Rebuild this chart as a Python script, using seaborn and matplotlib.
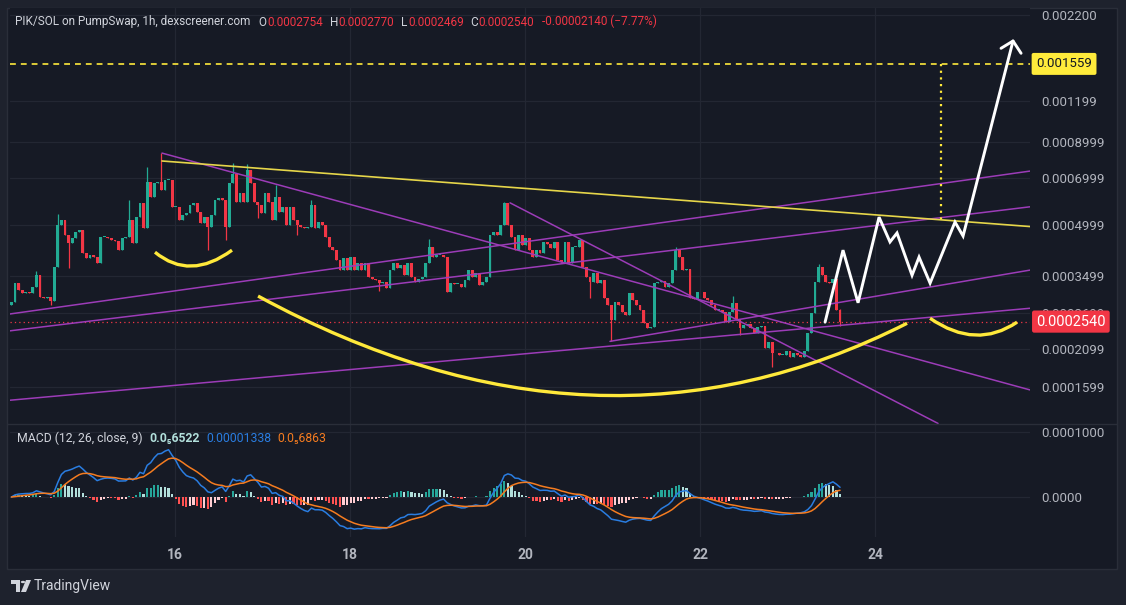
import matplotlib
matplotlib.use("Agg")
import matplotlib.pyplot as plt
import matplotlib.transforms as mtransforms
from matplotlib.lines import Line2D
from matplotlib.patches import PathPatch, Rectangle, Circle, Polygon
from matplotlib.path import Path
from matplotlib.ticker import FixedLocator, NullLocator
import numpy as np
import pandas as pd
import seaborn as sns

# ---- data (prices in millionths of SOL) ----
closes_e6 = [
    292, 333, 317, 310, 313, 310, 324, 352, 302, 300, 301, 294,
    373, 501, 519, 467, 441, 457, 477, 484,
    412, 398, 406, 400, 384, 460, 462, 457, 451, 448,
    420, 457, 462, 519, 441, 530, 585, 490, 678, 610,
    673, 678, 641, 688, 690, 570, 570, 519, 538, 545,
    577, 585, 550, 508, 530, 494, 538, 598,
    606, 600, 494, 673, 720, 590, 630, 590, 738, 673, 588, 577,
    545, 630, 590, 519, 610, 550, 570, 501, 570, 519,
    501, 494, 490, 494, 577, 490, 512, 501, 460, 430,
    420, 392, 365, 398, 365, 400, 365, 384, 365, 384,
    347, 344, 340, 333, 335, 321, 365, 384, 370, 378,
    352, 384, 347, 335, 344, 347, 384,
    430, 400, 406, 406, 400, 312, 333, 331, 331, 324, 340, 365, 347,
    357, 328, 335, 347, 467, 477, 467, 501, 585, 501,
    460, 420, 467, 435, 457, 420, 400, 420, 412, 445,
    440, 427, 445, 392, 386, 445, 384, 430, 430, 451,
    373, 347, 335, 357, 333, 340, 300, 285, 257, 292,
    285, 272, 266, 310, 296, 285, 276,
    251, 243, 245, 333, 335, 337, 324, 333, 365, 420, 400, 365, 367,
    300, 298, 312, 312, 300, 296, 285, 276, 276, 272,
    253, 272, 290, 257, 243, 248, 250, 243, 234, 245,
    246, 211, 220, 203, 204, 201, 201, 206, 198, 203,
    201, 198, 206, 234, 270, 335, 373, 352, 335, 333, 344, 275, 254,
]
first_open_e6 = 285
wick_high_e6 = {7: 362, 13: 540, 33: 598, 38: 755, 42: 832, 62: 775, 66: 770,
                74: 664, 84: 598, 117: 454, 138: 590, 186: 430, 202: 304,
                226: 381, 232: 277}
wick_low_e6 = {11: 285, 16: 370, 55: 420, 60: 451, 69: 527, 80: 467, 103: 316,
               162: 300, 168: 221, 204: 231, 213: 184, 232: 247}
first_day, last_day = 14.13, 23.6

price_ticks = [0.0022, 0.001199, 0.0008999, 0.0006999, 0.0004999,
               0.0003499, 0.0002699, 0.0002099, 0.0001599]
price_tick_labels = ["0.002200", "0.001199", "0.0008999", "0.0006999", "0.0004999",
                     "0.0003499", "0.0002699", "0.0002099", "0.0001599"]
macd_ticks = [0.0001, 0.0]
macd_tick_labels = ["0.0001000", "0.0000"]
day_ticks = [16, 18, 20, 22, 24]
day_labels = ["16", "18", "20", "22", "24"]

target_price = 0.001559
last_price = 0.0002540
header_parts = [("PIK/SOL on PumpSwap, 1h, dexscreener.com", "light", 0),
                ("O", "light", 6), ("0.0002754", "red", 0.3),
                ("H", "light", 5), ("0.0002770", "red", 0.3),
                ("L", "light", 5), ("0.0002469", "red", 0.3),
                ("C", "light", 5), ("0.0002540", "red", 0.3),
                ("-0.00002140 (\u22127.77%)", "red", 5.5)]
macd_legend = [("MACD (12, 26, close, 9)", "light", 0),
               ("0.0\u20856522", "hist", 5),
               ("0.00001338", "blue", 4.5),
               ("0.0\u20856863", "orange", 4.5)]

# drawings: (day, price e-6)
purple_lines = [((15.851, 832), (25.771, 157)),
                ((19.829, 586), (24.72, 124)),
                ((14.114, 268), (25.771, 733)),
                ((14.114, 238), (25.771, 570)),
                ((14.114, 146), (25.771, 279)),
                ((20.971, 221), (25.771, 365))]
yellow_line = ((15.851, 787), (25.771, 496))
arcs = [((15.771, 414), (16.171, 338), (16.651, 420)),
        ((16.949, 304), (20.823, 83), (24.366, 251)),
        ((24.629, 260), (25.154, 208), (25.623, 253))]
proj_days = [23.429, 23.634, 23.806, 24.046, 24.171, 24.251, 24.423,
             24.503, 24.629, 24.914, 25.006, 25.577]
proj_e6 = [253, 420, 290, 530, 445, 474, 352, 400, 333, 512, 464, 1832]
arrow_days = [25.44, 25.577, 25.669]
arrow_e6 = [1740, 1832, 1680]
target_day, target_base_e6 = 24.754, 523

# ---- style ----
BG = "#161a25"
FRAME = "#1e222d"
BORDER = "#2a2e39"
GRID = "#232733"
TEXT = "#b2b5be"
LIGHT = "#d1d4dc"
UP = "#22ab94"
DOWN = "#f23645"
PURPLE = "#9c3cb8"
YELLOW = "#ffe93b"
BLUE = "#2a7de1"
ORANGE = "#f57c20"
colors = {"light": LIGHT, "red": DOWN, "hist": "#b2dfdb", "blue": BLUE, "orange": ORANGE}

sns.set_theme(style="dark", rc={"axes.facecolor": BG, "figure.facecolor": FRAME,
                                "grid.color": GRID, "text.color": LIGHT,
                                "xtick.color": TEXT, "ytick.color": TEXT})
plt.rcParams["font.family"] = ["Roboto", "DejaVu Sans"]

W, H = 1126, 605


def fx(x):
    return x / W


def fy(y):
    return 1 - y / H


fig = plt.figure(figsize=(W / 100, H / 100), dpi=100)
fig.add_artist(Rectangle((fx(7), fy(569)), 1110 / W, 561 / H, transform=fig.transFigure,
                         fc=BG, ec=BORDER, lw=1, zorder=0))

ax = fig.add_axes([fx(10), fy(424), 1020 / W, 416 / H])
ax2 = fig.add_axes([fx(10), fy(537), 1020 / W, 113 / H], sharex=ax)

# ---- candles ----
closes = np.array(closes_e6) * 1e-6
opens = np.concatenate([[first_open_e6 * 1e-6], closes[:-1]])
highs = np.maximum(opens, closes)
lows = np.minimum(opens, closes)
for i, v in wick_high_e6.items():
    highs[i] = v * 1e-6
for i, v in wick_low_e6.items():
    lows[i] = v * 1e-6
n = len(closes)
days = np.linspace(first_day, last_day, n)
step = days[1] - days[0]
cols = np.where(closes >= opens, UP, DOWN)
body_lo = np.minimum(opens, closes)
body_h = np.maximum(np.abs(closes - opens), body_lo * 0.006)

ax.vlines(days, lows, highs, colors=cols, lw=0.9, zorder=3)
ax.bar(days, body_h, bottom=body_lo, width=step * 0.78, color=cols, lw=0, zorder=3)

# ---- drawings ----
for (d0, p0), (d1, p1) in purple_lines:
    ax.plot([d0, d1], [p0 * 1e-6, p1 * 1e-6], color=PURPLE, lw=1.1, zorder=4)
(d0, p0), (d1, p1) = yellow_line
ax.plot([d0, d1], [p0 * 1e-6, p1 * 1e-6], color="#e6d64a", lw=1.2, zorder=4)
for pts in arcs:
    verts = [(d, p * 1e-6) for d, p in pts]
    ax.add_patch(PathPatch(Path(verts, [Path.MOVETO, Path.CURVE3, Path.CURVE3]),
                           fill=False, ec=YELLOW, lw=2.4, zorder=5))
ax.axhline(target_price, color=YELLOW, lw=1.2, ls=(0, (3.5, 3)), zorder=4)
ax.plot([target_day, target_day], [target_price, target_base_e6 * 1e-6],
        color=YELLOW, lw=1.6, ls=(0, (1, 2)), zorder=4)
ax.axhline(last_price, color=DOWN, lw=0.9, ls=(0, (1, 2.5)), zorder=2)
ax.plot(proj_days, np.array(proj_e6) * 1e-6, color="white", lw=2.1, zorder=6,
        solid_joinstyle="miter")
ax.plot(arrow_days, np.array(arrow_e6) * 1e-6, color="white", lw=2.1, zorder=6)

ax.set_yscale("log")
ax.set_ylim(123.5e-6, 2311e-6)
ax.set_xlim(14.114, 25.771)
ax.yaxis.tick_right()
ax.yaxis.set_major_locator(FixedLocator(price_ticks))
ax.set_yticklabels(price_tick_labels)
ax.yaxis.set_minor_locator(NullLocator())
ax.set_xticks(day_ticks)
ax.tick_params(axis="x", labelbottom=False, length=0)
ax.tick_params(axis="y", length=0, pad=8, labelsize=9.5, colors=TEXT)
ax.grid(True, color=GRID, lw=0.9)
ax.set_axisbelow(True)
for s in ax.spines.values():
    s.set_visible(False)

blend = mtransforms.blended_transform_factory(ax.transAxes, ax.transData)
ax.text(1.006, target_price, "0.001559", transform=blend, ha="left", va="center",
        fontsize=9.5, color="#131722", zorder=10, clip_on=False,
        bbox=dict(boxstyle="round,pad=0.34,rounding_size=0.15", fc="#ffeb3b", ec="none"))
ax.text(1.006, last_price, "0.0002540", transform=blend, ha="left", va="center",
        fontsize=10.5, color="white", zorder=10, clip_on=False,
        bbox=dict(boxstyle="round,pad=0.28,rounding_size=0.15", fc=DOWN, ec="none"))

# ---- MACD pane ----
s = pd.Series(closes)
macd = s.ewm(span=12, adjust=False).mean() - s.ewm(span=26, adjust=False).mean()
signal = macd.ewm(span=9, adjust=False).mean()
hist = (macd - signal).to_numpy()
prev = np.concatenate([[0.0], hist[:-1]])
hist_cols = np.where(hist >= 0, np.where(hist > prev, "#26a69a", "#b2dfdb"),
                     np.where(hist < prev, "#ff5252", "#ffcdd2"))
ax2.bar(days, hist, width=step * 0.6, color=hist_cols, lw=0, zorder=2)
macd_df = pd.DataFrame({"day": days, "macd": macd, "signal": signal})
sns.lineplot(data=macd_df, x="day", y="macd", ax=ax2, color=BLUE, lw=1.1, zorder=3)
sns.lineplot(data=macd_df, x="day", y="signal", ax=ax2, color=ORANGE, lw=1.1, zorder=3)
ax2.set_xlabel("")
ax2.set_ylabel("")
ax2.set_ylim(-0.615e-4, 1.123e-4)
ax2.yaxis.tick_right()
ax2.set_yticks(macd_ticks)
ax2.set_yticklabels(macd_tick_labels)
ax2.set_xticks(day_ticks)
ax2.set_xticklabels(day_labels)
ax2.tick_params(axis="y", length=0, pad=8, labelsize=9.5, colors=TEXT)
ax2.tick_params(axis="x", length=0, pad=8, labelsize=10, colors=TEXT)
for lab in ax2.get_xticklabels():
    lab.set_fontweight("bold")
ax2.grid(True, color=GRID, lw=0.9)
ax2.set_axisbelow(True)
for sp in ax2.spines.values():
    sp.set_visible(False)
ax2.set_xlim(14.114, 25.771)

fig.add_artist(Line2D([fx(7), fx(1117)], [fy(424), fy(424)], transform=fig.transFigure,
                      color=BORDER, lw=1))


# ---- legends ----
def chain(host, parts, x, y, size):
    prev = None
    for text, key, gap in parts:
        weight = "bold" if key == "hist" else "normal"
        if prev is None:
            prev = fig.text(fx(x), fy(y), text, color=colors[key], fontsize=size,
                            va="center", ha="left", fontweight=weight)
        else:
            prev = host.annotate(text, xy=(1, 0), xycoords=prev, xytext=(gap, 0),
                                 textcoords="offset points", color=colors[key],
                                 fontsize=size, va="bottom", ha="left",
                                 fontweight=weight, annotation_clip=False,
                                 clip_on=False, zorder=10)


chain(ax, header_parts, 15, 22, 8.5)
chain(ax2, macd_legend, 17, 438, 8.8)

# TradingView logo
fig.add_artist(Polygon([(fx(11), fy(580)), (fx(20), fy(580)), (fx(20), fy(592)),
                        (fx(16), fy(592)), (fx(16), fy(584)), (fx(11), fy(584))],
                       closed=True, transform=fig.transFigure, fc=LIGHT, ec="none"))
fig.add_artist(Circle((fx(23), fy(582)), 2.2 / W, transform=fig.transFigure,
                      fc=LIGHT, ec="none"))
fig.add_artist(Polygon([(fx(26), fy(580)), (fx(31), fy(580)), (fx(26), fy(592)),
                        (fx(21), fy(592))],
                       closed=True, transform=fig.transFigure, fc=LIGHT, ec="none"))
fig.text(fx(34), fy(586), "TradingView", color=LIGHT, fontsize=10,
         va="center", ha="left")

fig.savefig("out.png", dpi=100, facecolor=FRAME)
